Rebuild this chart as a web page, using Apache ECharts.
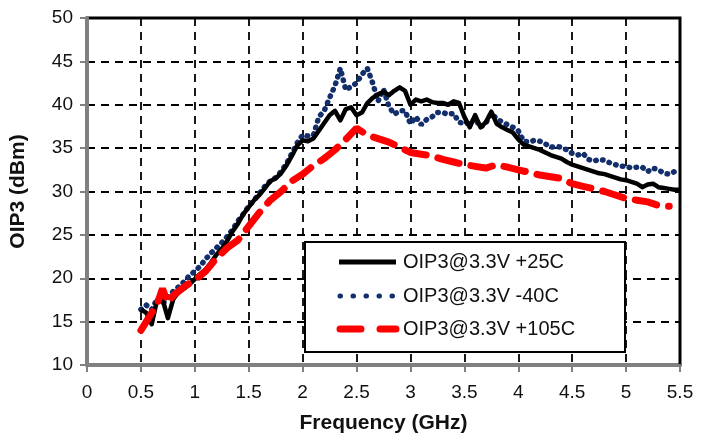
<!DOCTYPE html>
<html><head><meta charset="utf-8">
<script src="https://cdn.jsdelivr.net/npm/echarts@6/dist/echarts.min.js"></script>
<style>html,body{margin:0;padding:0;background:#fff}#c{width:708px;height:434px}</style>
</head><body><div id="c"></div>
<script>
// Frequency grid (GHz) for the +25C and -40C traces
const freq = [0.5,0.55,0.6,0.65,0.7,0.75,0.8,0.85,0.9,0.95,1.0,1.05,1.1,1.15,1.2,1.25,1.3,1.35,1.4,1.45,1.5,1.55,1.6,1.65,1.7,1.75,1.8,1.85,1.9,1.95,2.0,2.05,2.1,2.15,2.2,2.25,2.3,2.35,2.4,2.45,2.5,2.55,2.6,2.65,2.7,2.75,2.8,2.85,2.9,2.95,3.0,3.05,3.1,3.15,3.2,3.25,3.3,3.35,3.4,3.45,3.5,3.55,3.6,3.65,3.7,3.75,3.8,3.85,3.9,3.95,4.0,4.05,4.1,4.15,4.2,4.25,4.3,4.35,4.4,4.45,4.5,4.55,4.6,4.65,4.7,4.75,4.8,4.85,4.9,4.95,5.0,5.05,5.1,5.15,5.2,5.25,5.3,5.35,5.4,5.45,5.5];
const oip3_25C = [16.4,16.0,14.7,17.5,17.6,15.4,17.6,18.4,18.8,19.3,19.9,20.5,21.0,21.8,22.7,23.4,24.3,25.4,26.3,27.4,28.2,29.0,29.6,30.4,31.2,31.5,32.1,33.0,34.1,35.3,35.9,35.8,36.1,37.0,37.9,38.8,39.3,38.2,39.5,39.7,38.8,39.1,40.2,40.8,41.2,41.5,41.1,41.6,42.0,41.6,40.0,40.6,40.4,40.6,40.3,40.2,40.2,40.0,40.4,40.2,38.6,37.4,38.8,37.4,38.0,39.2,37.8,37.4,37.1,36.8,36.0,35.4,35.2,35.0,34.8,34.5,34.2,34.0,33.8,33.4,33.1,32.9,32.7,32.5,32.3,32.1,32.0,31.8,31.6,31.4,31.3,31.1,30.9,30.5,30.8,30.9,30.5,30.4,30.3,30.2,30.2];
const oip3_m40C = [16.4,16.9,16.4,17.6,17.0,17.8,18.5,19.0,19.6,20.3,20.8,21.4,22.2,22.9,23.5,24.1,24.8,25.6,26.6,27.4,28.3,29.0,29.8,30.6,31.2,31.6,32.3,33.2,34.4,35.6,36.5,36.4,36.5,38.6,39.3,40.8,42.2,44.2,41.7,42.1,42.5,43.5,44.2,42.5,40.4,41.8,39.8,38.9,39.3,39.3,37.8,38.6,37.7,38.3,38.6,39.1,39.1,38.9,39.0,38.0,37.8,37.9,38.4,37.4,37.9,39.0,38.4,38.0,37.7,37.4,37.0,35.8,35.7,35.9,35.8,35.5,35.1,35.2,35.1,34.8,34.4,34.2,34.4,33.7,33.5,33.7,33.6,33.3,33.1,32.9,32.9,32.7,32.8,32.8,32.3,32.7,32.5,32.1,32.0,32.3,32.4];
// +105C trace (its own frequency grid)
const freq105 = [0.5,0.55,0.6,0.65,0.7,0.75,0.8,0.9,1.0,1.1,1.2,1.3,1.4,1.5,1.6,1.7,1.8,1.9,2.0,2.1,2.2,2.3,2.4,2.5,2.6,2.7,2.8,2.9,3.0,3.1,3.2,3.3,3.4,3.5,3.6,3.7,3.8,3.9,4.0,4.1,4.2,4.3,4.4,4.5,4.6,4.7,4.8,4.9,5.0,5.1,5.2,5.3,5.4];
const oip3_105C = [14.0,15.0,16.0,17.0,18.8,17.2,18.0,19.0,19.8,20.8,22.3,23.5,24.4,26.0,27.6,29.0,30.0,31.2,32.0,33.0,33.8,34.8,36.0,37.3,36.5,36.1,35.7,35.1,34.5,34.3,34.1,33.7,33.4,33.1,32.9,32.7,33.1,32.8,32.5,32.2,31.9,31.7,31.5,30.9,30.6,30.3,30.0,29.6,29.2,29.0,28.8,28.4,28.3];
const xTicks = [0,0.5,1,1.5,2,2.5,3,3.5,4,4.5,5,5.5];
const seriesNames = ['OIP3@3.3V +25C','OIP3@3.3V -40C','OIP3@3.3V +105C'];

const pair = (xs, ys) => xs.map((x, i) => [x, ys[i]]);
const chart = echarts.init(document.getElementById('c'), null, {renderer: 'canvas'});
const font = 'Liberation Sans, Arial, sans-serif';
const C25 = '#000000', CM40 = '#132f6b', C105 = '#ff0000';

// legend drawn as graphic (box, samples, texts)
const legX = 305, legY = 242, legW = 320, legH = 110;
const rowY = [262, 296, 329];
const legend = [
  {type: 'rect', shape: {x: legX, y: legY, width: legW, height: legH}, style: {fill: '#fff', stroke: '#000', lineWidth: 2}, z: 100},
  {type: 'line', shape: {x1: 339, y1: rowY[0], x2: 396, y2: rowY[0]}, style: {stroke: C25, lineWidth: 5}, z: 101},
  {type: 'line', shape: {x1: 340, y1: rowY[1], x2: 396, y2: rowY[1]}, style: {stroke: CM40, lineWidth: 5, lineDash: [0.5, 12.5], lineCap: 'round'}, z: 101},
  {type: 'line', shape: {x1: 340, y1: rowY[2], x2: 396, y2: rowY[2]}, style: {stroke: C105, lineWidth: 7, lineDash: [21, 19], lineCap: 'round'}, z: 101}
].concat(seriesNames.map((n, i) => ({
  type: 'text', x: 403, y: rowY[i], z: 101,
  style: {text: n, font: '20px ' + font, fill: '#111', textVerticalAlign: 'middle', verticalAlign: 'middle'}
})));

chart.setOption({
  animation: false,
  backgroundColor: '#fff',
  grid: {left: 87, right: 28, top: 18, bottom: 69, show: true, borderColor: '#000', borderWidth: 3, backgroundColor: 'transparent',
         containLabel: false, outerBoundsMode: 'none'},
  xAxis: {
    type: 'value', min: 0, max: 5.5, interval: 0.5,
    name: 'Frequency (GHz)', nameLocation: 'middle', nameGap: 48,
    nameTextStyle: {fontFamily: font, fontSize: 21, fontWeight: 'bold', color: '#111'},
    axisLine: {show: true, lineStyle: {color: '#808080', width: 3}},
    axisTick: {show: true, length: 7, lineStyle: {color: '#808080', width: 2}},
    axisLabel: {fontFamily: font, fontSize: 19, color: '#111', margin: 18,
      formatter: v => { const t = xTicks.find(k => Math.abs(k - v) < 1e-6); return t === undefined ? '' : String(t); }},
    splitLine: {show: true, lineStyle: {color: '#000', width: 1.8, type: [8, 6]}}
  },
  yAxis: {
    type: 'value', min: 10, max: 50, interval: 5,
    name: 'OIP3 (dBm)', nameLocation: 'middle', nameGap: 58, nameRotate: 90,
    nameTextStyle: {fontFamily: font, fontSize: 21, fontWeight: 'bold', color: '#111'},
    axisLine: {show: true, lineStyle: {color: '#808080', width: 3}},
    axisTick: {show: true, length: 7, lineStyle: {color: '#808080', width: 2}},
    axisLabel: {fontFamily: font, fontSize: 19, color: '#111', margin: 14},
    splitLine: {show: true, lineStyle: {color: '#000', width: 1.8, type: [8, 6]}}
  },
  graphic: legend,
  series: [
    {name: seriesNames[0], type: 'line', data: pair(freq, oip3_25C), showSymbol: false, symbol: 'none', z: 4,
     lineStyle: {color: C25, width: 4.5, join: 'round'}, itemStyle: {color: C25}},
    {name: seriesNames[1], type: 'line', data: pair(freq, oip3_m40C), showSymbol: false, symbol: 'none', z: 3,
     lineStyle: {color: CM40, width: 5.5, type: [0.5, 6.5], cap: 'round'}, itemStyle: {color: CM40}},
    {name: seriesNames[2], type: 'line', data: pair(freq105, oip3_105C), showSymbol: false, symbol: 'none', z: 5,
     lineStyle: {color: C105, width: 7, type: [22, 12], cap: 'round'}, itemStyle: {color: C105}}
  ]
});
</script></body></html>
